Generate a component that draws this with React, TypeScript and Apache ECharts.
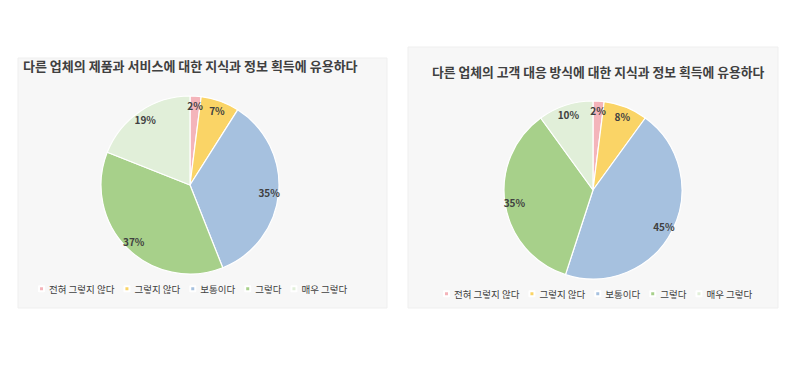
import React, { useEffect, useRef } from "react";
import * as echarts from "echarts";

const categories = ["전혀 그렇지 않다", "그렇지 않다", "보통이다", "그렇다", "매우 그렇다"];
const leftValues = [2, 7, 35, 37, 19];
const rightValues = [2, 8, 45, 35, 10];
const leftTitle = "다른 업체의 제품과 서비스에 대한 지식과 정보 획득에 유용하다";
const rightTitle = "다른 업체의 고객 대응 방식에 대한 지식과 정보 획득에 유용하다";
const colors = ["#F4B4BA", "#FAD466", "#A6C1DF", "#A7D08A", "#E1EFD9"];

const FONT = "'Noto Sans CJK KR', 'Noto Sans', sans-serif";

function makePie(values: number[], center: [number, number], r: number) {
  const data = categories.map((name, i) => ({ name, value: values[i], itemStyle: { color: colors[i] } }));
  return [
    {
      type: "pie",
      center,
      radius: [0, r],
      startAngle: 90,
      clockwise: true,
      data,
      label: { show: false },
      labelLine: { show: false },
      itemStyle: { borderColor: "#ffffff", borderWidth: 1.2 },
      emphasis: { disabled: true },
    },
    {
      type: "pie",
      center,
      radius: [r * 0.72, r],
      startAngle: 90,
      clockwise: true,
      silent: true,
      data: categories.map((name, i) => ({ name, value: values[i] })),
      itemStyle: { color: "rgba(0,0,0,0)", borderWidth: 0 },
      label: {
        show: true,
        position: "inside",
        formatter: "{c}%",
        color: "#404040",
        fontSize: 10,
        fontWeight: "bold",
        fontFamily: FONT,
      },
      labelLine: { show: false },
      emphasis: { disabled: true },
      legendHoverLink: false,
    },
  ];
}

export default function App() {
  const ref = useRef<HTMLDivElement>(null);
  useEffect(() => {
    document.body.style.margin = "0";
    const chart = echarts.init(ref.current!, null, { renderer: "svg" });
    const legendCommon = {
      data: categories,
      icon: "rect",
      itemWidth: 5,
      itemHeight: 5,
      itemGap: 9,
      textStyle: { fontSize: 9.5, color: "#404040", fontFamily: FONT },
      padding: 0,
    };
    chart.setOption({
      animation: false,
      backgroundColor: "#ffffff",
      color: colors,
      graphic: [
        {
          type: "rect",
          shape: { x: 18, y: 58, width: 369, height: 250 },
          style: { fill: "#f7f7f7", stroke: "#efefef", lineWidth: 1 },
          z: -10,
        },
        {
          type: "rect",
          shape: { x: 408, y: 47, width: 370, height: 261 },
          style: { fill: "#f7f7f7", stroke: "#efefef", lineWidth: 1 },
          z: -10,
        },
      ],
      title: [
        {
          text: leftTitle,
          left: 23,
          top: 59,
          padding: 0,
          textStyle: { fontSize: 13, fontWeight: "bold", color: "#404040", fontFamily: FONT },
        },
        {
          text: rightTitle,
          left: 432,
          top: 65,
          padding: 0,
          textStyle: { fontSize: 12.8, fontWeight: "bold", color: "#404040", fontFamily: FONT },
        },
      ],
      legend: [
        { ...legendCommon, left: 38, top: 284 },
        { ...legendCommon, left: 443, top: 289 },
      ],
      series: [...makePie(leftValues, [190, 185], 89), ...makePie(rightValues, [593, 190], 89)],
    });
    return () => chart.dispose();
  }, []);
  return <div ref={ref} style={{ position: "fixed", left: 0, top: 0, width: 804, height: 369 }} />;
}
